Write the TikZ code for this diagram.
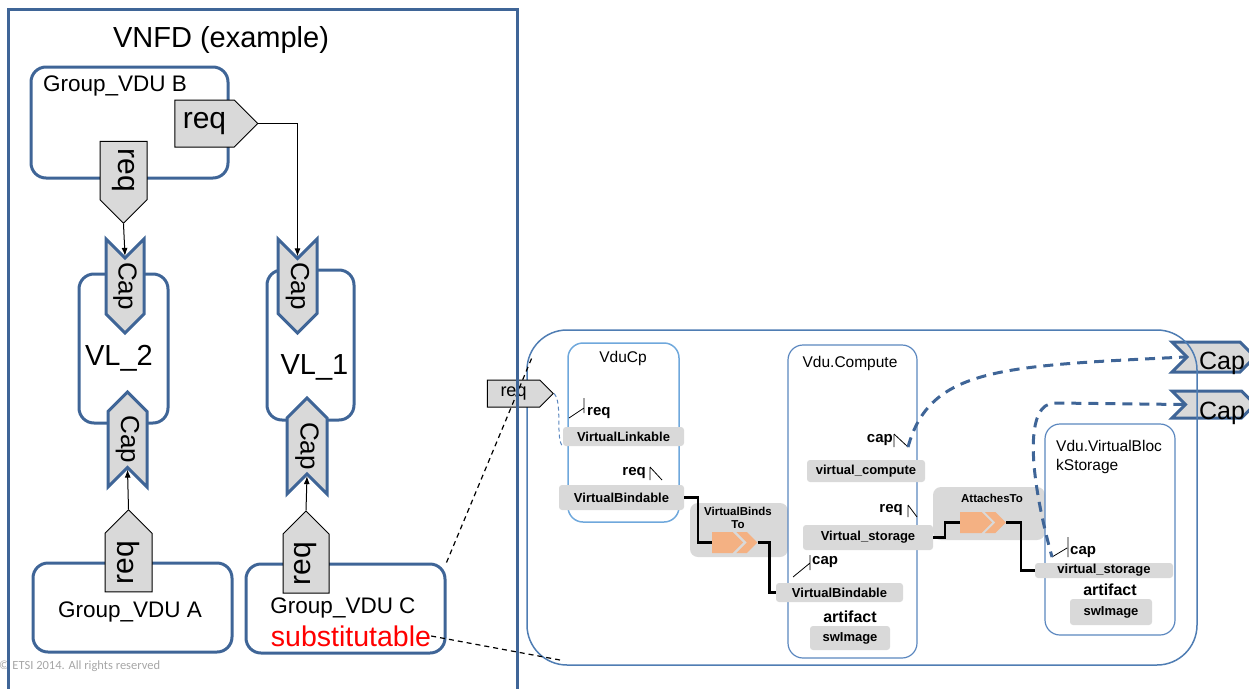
\documentclass[tikz,border=0pt]{standalone}
\usepackage{fontspec}
\setmainfont{Liberation Sans}
\newfontfamily\etsifont{Carlito}
\usetikzlibrary{shapes.symbols,arrows.meta}

\definecolor{frameblue}{HTML}{3F6597}
\definecolor{panelblue}{HTML}{4F7DB3}
\definecolor{lightblue}{HTML}{6FA8DC}
\definecolor{boxblue}{HTML}{5B87BF}
\definecolor{sgrey}{HTML}{D9D9D9}
\definecolor{orangefill}{HTML}{F4B183}
\definecolor{copygrey}{HTML}{A6A6A6}

\newcommand{\fsz}[1]{\fontsize{#1}{#1}\selectfont}

\begin{document}
\begin{tikzpicture}[x=1pt, y=-1pt, every node/.style={inner sep=0pt},
    grp/.style={draw=frameblue, line width=3pt, rounded corners=15pt},
    reqsig/.style={signal, signal to=east, draw=black, fill=sgrey, line width=1pt, font=\fsz{30}},
    capsig/.style={signal, draw=frameblue, fill=sgrey, line width=3pt, font=\fsz{26}},
    unit/.style={draw=boxblue, line width=1.2pt, rounded corners=15pt},
    gbox/.style={fill=sgrey, rounded corners=3pt, font=\bfseries\fsz{13}},
    tiklbl/.style={font=\bfseries\fsz{15}},
    tickline/.style={draw=black, line width=0.8pt},
    link/.style={draw=black, line width=1pt, -{Latex[length=8pt,width=6pt]}},
    bind/.style={draw=black, line width=2.5pt},
    orngsig/.style={signal, signal to=east, fill=orangefill, minimum height=21},
    sub/.style={draw=black, line width=1.2pt, dash pattern=on 5pt off 4pt},
    capdash/.style={draw=frameblue, line width=3pt, dash pattern=on 10pt off 7pt},
  ]
  \useasboundingbox (0,0) rectangle (1249,688);

  % VNFD side
  \node[font=\fsz{29}] (title) at (221,40) {VNFD (example)};
  \node[grp, minimum width=197, minimum height=111] (grpB) at (129.5,122.5) {};
  \node[anchor=west, font=\fsz{22.5}] (grpBlbl) at (43,86) {Group\_VDU B};
  \node[reqsig, minimum width=83, minimum height=47] (reqB1) at (204.5,123.5) {req};
  \node[reqsig, rotate=-90, minimum width=82, minimum height=47] (reqB2) at (123.5,170.5) {req};

  \node[grp, minimum width=89, minimum height=149] (vl2) at (123.5,348.5) {};
  \node[font=\fsz{29}] (vl2lbl) at (119,358) {VL\_2};
  \node[grp, minimum width=87, minimum height=150] (vl1) at (310.5,345) {};
  \node[font=\fsz{29}] (vl1lbl) at (314.5,367) {VL\_1};

  \node[capsig, rotate=-90, signal from=west, signal to=east, minimum width=94, minimum height=38] (capL1) at (125,286) {Cap};
  \node[capsig, rotate=-90, signal from=west, signal to=east, minimum width=94, minimum height=39] (capR1) at (297.5,286) {Cap};
  \node[capsig, rotate=-90, signal from=east, signal to=west, minimum width=95, minimum height=39] (capL2) at (127.5,439.5) {Cap};
  \node[capsig, rotate=-90, signal from=east, signal to=west, minimum width=96, minimum height=40] (capR2) at (307,446) {Cap};

  \node[grp, minimum width=199, minimum height=89] (grpA) at (132.5,607.5) {};
  \node[font=\fsz{22.5}] (grpAlbl) at (130,612) {Group\_VDU A};
  \node[grp, minimum width=199, minimum height=89] (grpC) at (345.5,608.5) {};
  \node[font=\fsz{22.5}] (grpClbl) at (343,608) {Group\_VDU C};
  \node[font=\fsz{28.5}, text=red] (subst) at (351,636) {substitutable};
  \node[reqsig, rotate=90, minimum width=82, minimum height=47] (reqA) at (128.5,562.5) {req};
  \node[reqsig, rotate=90, minimum width=82, minimum height=46] (reqC) at (306,563.5) {req};

  \draw[link] (reqB2.east) -- (capL1.west);
  \draw[link] (reqB1.east) -| (capR1.west);
  \draw[link] (reqA.east) -- (capL2.east);
  \draw[link] (reqC.east) -- (capR2.east);

  \node[anchor=west, text=copygrey, font=\etsifont\fsz{12.5}] (copy) at (-1,666) {\textcopyright{} ETSI 2014. All rights reserved};

  % template side
  \node[capsig, signal from=west, signal to=east, minimum width=83, minimum height=30] (capT1) at (1213.5,357) {};
  \node[font=\fsz{25}] (capT1lbl) at (1222,363) {Cap};
  \node[capsig, signal from=west, signal to=east, minimum width=83, minimum height=27] (capT2) at (1213.5,404.5) {};
  \node[font=\fsz{25}] (capT2lbl) at (1222,413) {Cap};
  \node[draw=panelblue, line width=1.5pt, rounded corners=40pt, minimum width=670, minimum height=335] (panel) at (862,497.5) {};
  \coordinate (panelNW) at (533,355);
  \coordinate (panelSW) at (560,660);

  \node[draw=lightblue, line width=1.5pt, rounded corners=15pt, minimum width=111, minimum height=179] (vducp) at (623.5,432.5) {};
  \node[font=\fsz{15.5}] (vducplbl) at (623,358) {VduCp};
  \node[reqsig, font=\fsz{18}, minimum width=66, minimum height=27] (reqR) at (513.5,393.5) {req};
  \node[gbox, minimum width=121, minimum height=19] (vlink) at (623.5,436.5) {VirtualLinkable};
  \node[tiklbl, anchor=west] (vlreq) at (587,413) {req};
  \node[tiklbl, anchor=east] (vbreq) at (646,473) {req};
  \node[gbox, minimum width=125, minimum height=25] (vbind1) at (621.5,497.5) {VirtualBindable};

  \node[gbox, rounded corners=8pt, minimum width=98, minimum height=54] (bindsto) at (739,530) {};
  \node[font=\bfseries\fontsize{11.5}{13}\selectfont, align=center] (bindstolbl) at (738,518) {VirtualBinds\\To};

  \node[unit, minimum width=129, minimum height=313] (compute) at (852.5,501.5) {};
  \node[font=\fsz{15.5}] (computelbl) at (850,363) {Vdu.Compute};
  \node[tiklbl, anchor=east] (cmcap) at (893,440) {cap};
  \node[gbox, minimum width=118, minimum height=22] (vcomp) at (866,471) {virtual\_compute};
  \node[tiklbl, anchor=east] (cmreq) at (903,510) {req};
  \node[gbox, minimum width=130, minimum height=25] (vstor1) at (868,537.5) {Virtual\_storage};
  \node[tiklbl, anchor=west] (cmcap2) at (812,562) {cap};
  \node[gbox, minimum width=127, minimum height=19] (vbind2) at (839.5,592.5) {VirtualBindable};
  \node[font=\bfseries\fsz{16}] (art1) at (850,617) {artifact};
  \node[gbox, minimum width=80, minimum height=24] (swimg1) at (850,638) {swImage};

  \node[gbox, rounded corners=8pt, minimum width=112, minimum height=53] (attach) at (989,513.5) {};
  \node[font=\bfseries\fsz{11.5}] (attachlbl) at (992,498) {AttachesTo};

  \node[unit, minimum width=130, minimum height=211] (storage) at (1110,529.5) {};
  \node[anchor=north west, align=left, font=\fontsize{15.5}{19}\selectfont] (storagelbl) at (1056,440) {Vdu.VirtualBloc\\kStorage};
  \node[tiklbl, anchor=west] (stcap) at (1070,552) {cap};
  \node[gbox, minimum width=138, minimum height=15] (vstor2) at (1104,570.5) {virtual\_storage};
  \node[font=\bfseries\fsz{16}] (art2) at (1110,590) {artifact};
  \node[gbox, minimum width=82, minimum height=26] (swimg2) at (1111,612) {swImage};

  \node[orngsig, minimum width=31] (bindA) at (722.25,542.5) {};
  \node[orngsig, signal from=west, minimum width=17.5] (bindB) at (746.75,542.5) {};
  \draw[bind] (vbind1.east) -- ++(14,0) |- (bindA.west);
  \draw[bind] (bindB.east) -- ++(12,0) |- (vbind2.west);
  \node[orngsig, minimum width=32] (attA) at (970.75,522.5) {};
  \node[orngsig, signal from=west, minimum width=16.5] (attB) at (995.25,522.5) {};
  \draw[bind] (vstor1.east) -- ++(12,0) |- (attA.west);
  \draw[bind] (attB.east) -- ++(15,0) |- (vstor2.west);

  \draw[tickline] (vlreq.west) ++(-3,-15) -- ++(0,15) (vlreq.west) ++(-18,5) -- ++(15,-10);
  \draw[tickline] (vbreq.east) ++(4,-6) -- ++(0,13) (vbreq.east) ++(4,-6) -- ++(12,13);
  \draw[tickline] (cmcap.east) ++(1,-6) -- ++(0,13) (cmcap.east) ++(1,-6) -- ++(14,13) coordinate (cmcapT);
  \draw[tickline] (cmreq.east) ++(5,-5) -- ++(0,12) (cmreq.east) ++(5,-5) -- ++(9,12);
  \draw[tickline] (cmcap2.west) ++(-2,-7) -- ++(0,15) (cmcap2.west) ++(-19,15) -- ++(17,-14);
  \draw[tickline] (stcap.west) ++(-2,-15) -- ++(0,20) (stcap.west) ++(-18,5) coordinate (stcapT) -- ++(15,-9);

  \draw[draw=boxblue, line width=1pt, dash pattern=on 4pt off 3pt] (reqR.east) .. controls (563,402) and (555,440) .. (vlink.south west);
  \draw[capdash] (cmcapT) .. controls (930,368) and (1000,366) .. (capT1.west);
  \draw[capdash] (capT2.west) -- (1055,403) .. controls (1025,403) and (1028,470) .. (stcapT);

  \draw[sub] (grpC.north east) -- (panelNW);
  \draw[sub] (subst.east) -- (panelSW);

  \node[draw=frameblue, line width=3pt, minimum width=509, minimum height=700] (vnfd) at (262.5,359) {};
\end{tikzpicture}
\end{document}
